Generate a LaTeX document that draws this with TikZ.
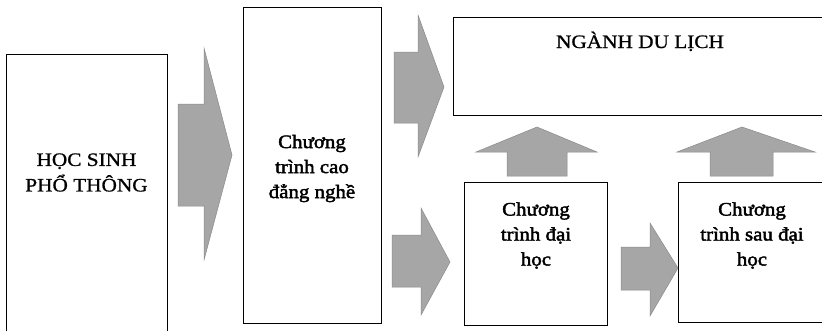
\documentclass[tikz,border=0pt]{standalone}
\usepackage{fontspec}
\setmainfont[FakeStretch=1.12,FakeBold=0.9]{Liberation Serif}
\newfontfamily\semiboldserif[FakeStretch=1.1,FakeBold=2.2]{Liberation Serif}
\definecolor{arrowgray}{HTML}{A6A6A6}
\definecolor{arrowedge}{HTML}{8A8A8A}
\begin{document}
\begin{tikzpicture}[x=1pt,y=-1pt,
  box/.style={draw=black, line width=0.8pt, fill=white},
  blockarrow/.style={fill=arrowgray, draw=arrowedge, line width=0.5pt, line join=miter},
  lbl/.style={align=center, inner sep=0pt, font=\fontsize{19}{25.5}\selectfont},
  boldlbl/.style={lbl, font=\fontsize{19}{25}\selectfont\semiboldserif}]
\clip (0,0) rectangle (822,330);
\fill[white] (0,0) rectangle (822,330);

% boxes
\draw[box] (6,54) rectangle (167,340);
\draw[box] (243,7) rectangle (381,323);
\draw[box] (453,17) rectangle (830,115);
\draw[box] (464,182) rectangle (607,325);
\draw[box] (678,182) rectangle (830,322);

% labels
\node[lbl] (hocsinh) at (86.5,172.5) {HỌC SINH\\PHỔ THÔNG};
\node[boldlbl] (caodang) at (312,168.5) {Chương\\trình cao\\đẳng nghề};
\node[lbl, anchor=base] (dulich) at (640,48) {NGÀNH DU LỊCH};
\node[boldlbl] (daihoc) at (536,235.5) {Chương\\trình đại\\học};
\node[boldlbl] (saudaihoc) at (752,235.5) {Chương\\trình sau đại\\học};

% block arrows
\draw[blockarrow] (178,104) -- (204,104) -- (204,48) -- (232,155)
  -- (204,260) -- (204,206) -- (178,206) -- cycle;
\draw[blockarrow] (394,52) -- (418,52) -- (418,15) -- (444,87)
  -- (418,157) -- (418,123) -- (394,123) -- cycle;
\draw[blockarrow] (392,235) -- (421,235) -- (421,208) -- (450,262)
  -- (421,315) -- (421,287) -- (392,287) -- cycle;
\draw[blockarrow] (621,247) -- (650,247) -- (650,223) -- (678,268)
  -- (650,316) -- (650,290) -- (621,290) -- cycle;
\draw[blockarrow] (507,176) -- (507,152) -- (476,152) -- (537,127)
  -- (597,152) -- (567,152) -- (567,176) -- cycle;
\draw[blockarrow] (710,176) -- (710,152) -- (677,152) -- (742,127)
  -- (815,152) -- (773,152) -- (773,176) -- cycle;
\end{tikzpicture}
\end{document}
